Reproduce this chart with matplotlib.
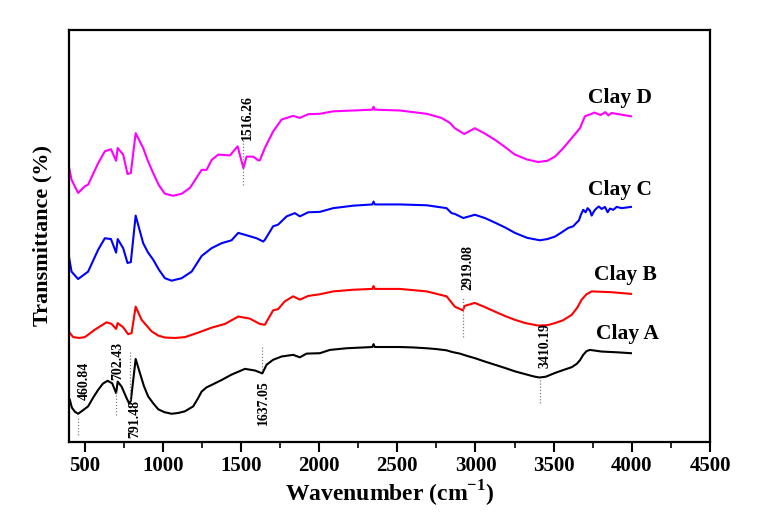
import matplotlib.pyplot as plt

# FTIR spectra (wavenumber in cm-1, transmittance in arbitrary %)
wn_a = [406, 419, 438, 459, 481, 523, 555, 587, 617, 647, 677, 702, 712, 737, 769, 784, 796,
        827, 854, 880, 907, 940, 971, 1010, 1057, 1100, 1142, 1195, 1225, 1249, 1280, 1313,
        1377, 1440, 1526, 1590, 1637, 1664, 1706, 1760, 1834, 1877, 1920, 2005, 2069, 2176,
        2340, 2348, 2356, 2517, 2600, 2688, 2750, 2815, 2850, 2900, 2950, 2996, 3050, 3124,
        3190, 3252, 3300, 3359, 3380, 3410, 3450, 3508, 3560, 3615, 3647, 3668, 3689, 3710,
        3732, 3807, 3913, 3994]
t_a = [10.2, 8.3, 7.3, 6.8, 7.4, 8.6, 10.7, 12.6, 14.1, 14.8, 14.2, 11.8, 14.6, 13.4, 10.6,
       9.4, 9.9, 20.1, 16.7, 13.5, 11.0, 9.3, 7.9, 7.2, 6.8, 7.0, 7.4, 8.6, 10.5, 12.2, 13.2,
       13.8, 15.0, 16.3, 17.7, 17.3, 16.6, 18.7, 19.9, 20.7, 21.1, 20.5, 21.4, 21.5, 22.3,
       22.7, 23.0, 23.7, 23.0, 23.0, 22.9, 22.7, 22.5, 22.2, 21.8, 21.4, 20.8, 20.3, 19.6,
       18.7, 17.9, 17.1, 16.6, 16.0, 15.8, 15.6, 15.8, 16.7, 17.4, 18.1, 18.9, 19.8, 21.1,
       22.0, 22.3, 21.9, 21.7, 21.5]

wn_b = [406, 428, 465, 502, 566, 641, 673, 702, 712, 747, 779, 801, 827, 865, 929, 970, 1014,
        1080, 1142, 1227, 1313, 1398, 1483, 1557, 1621, 1653, 1706, 1738, 1781, 1834, 1877,
        1930, 2005, 2090, 2218, 2340, 2348, 2356, 2517, 2688, 2815, 2847, 2868, 2919, 2932,
        2996, 3060, 3124, 3190, 3252, 3320, 3401, 3460, 3508, 3560, 3615, 3650, 3679, 3710,
        3743, 3871, 3994]
t_b = [26.4, 25.4, 25.2, 25.4, 27.2, 29.0, 28.6, 27.4, 28.8, 27.8, 26.1, 26.4, 32.8, 29.6,
       26.8, 25.8, 25.3, 25.2, 25.4, 26.5, 27.7, 28.6, 30.4, 29.9, 28.6, 28.4, 31.9, 32.2,
       34.1, 35.3, 34.5, 35.4, 35.8, 36.5, 36.9, 37.1, 37.8, 37.1, 37.1, 36.5, 35.3, 33.8,
       32.8, 31.9, 33.0, 33.7, 32.7, 31.6, 30.5, 29.6, 28.8, 28.2, 28.3, 28.8, 29.5, 30.8,
       32.5, 34.5, 35.8, 36.5, 36.3, 35.9]

wn_c = [400, 417, 459, 523, 587, 630, 669, 702, 712, 747, 775, 796, 827, 875, 905, 939, 975,
        1014, 1057, 1121, 1185, 1249, 1313, 1377, 1440, 1483, 1547, 1600, 1643, 1653, 1706,
        1738, 1792, 1845, 1877, 1930, 2005, 2090, 2218, 2340, 2348, 2356, 2517, 2688, 2815,
        2847, 2868, 2922, 2996, 3060, 3124, 3190, 3252, 3330, 3412, 3460, 3508, 3550, 3593,
        3625, 3647, 3661, 3674, 3689, 3704, 3717, 3732, 3743, 3760, 3775, 3789, 3807, 3828,
        3845, 3860, 3881, 3903, 3935, 3994]
t_c = [45.0, 41.3, 39.5, 41.3, 46.6, 49.4, 49.2, 45.9, 49.2, 47.0, 43.4, 43.6, 54.9, 48.2,
       46.0, 44.2, 41.8, 39.7, 39.1, 39.7, 41.3, 45.1, 47.0, 48.2, 48.9, 50.7, 50.0, 49.4,
       48.6, 49.0, 52.3, 52.7, 54.7, 55.5, 54.7, 55.7, 55.8, 56.7, 57.3, 57.6, 58.3, 57.6,
       57.6, 57.4, 56.7, 55.5, 55.3, 54.3, 55.1, 54.3, 53.2, 52.0, 50.7, 49.5, 48.9, 49.2,
       49.8, 50.8, 51.9, 52.3, 53.2, 53.7, 55.1, 56.3, 55.7, 56.7, 56.1, 54.9, 56.1, 56.7,
       57.1, 56.5, 57.0, 55.7, 56.6, 56.3, 57.0, 56.7, 57.0]

wn_d = [400, 417, 459, 502, 523, 587, 630, 669, 702, 712, 747, 775, 796, 827, 875, 905, 939,
        975, 1014, 1067, 1121, 1174, 1249, 1281, 1313, 1355, 1430, 1479, 1516, 1536, 1579,
        1611, 1621, 1653, 1706, 1760, 1834, 1877, 1930, 2005, 2090, 2218, 2340, 2348, 2356,
        2517, 2688, 2783, 2836, 2868, 2928, 2996, 3060, 3124, 3190, 3252, 3330, 3401, 3460,
        3508, 3560, 3615, 3668, 3700, 3743, 3760, 3800, 3830, 3850, 3870, 3994]
t_d = [66.8, 63.6, 60.4, 62.0, 62.4, 67.6, 70.5, 71.0, 68.2, 71.3, 69.7, 65.0, 65.2, 74.9,
       71.3, 68.2, 65.2, 62.3, 60.2, 59.7, 60.2, 61.6, 66.0, 66.0, 68.4, 69.7, 69.5, 71.7,
       66.4, 69.2, 69.2, 68.3, 68.3, 71.3, 75.3, 78.2, 79.1, 78.6, 79.5, 79.6, 80.2, 80.4,
       80.6, 81.3, 80.6, 80.4, 79.6, 78.6, 77.4, 76.1, 74.7, 76.1, 74.8, 73.3, 71.5, 69.7,
       68.5, 67.9, 68.2, 69.2, 71.2, 73.7, 76.1, 79.0, 79.6, 79.9, 79.3, 80.0, 79.2, 79.8,
       79.0]

names = ['Clay A', 'Clay B', 'Clay C', 'Clay D']
colors = ['black', 'red', 'blue', 'magenta']
name_x = [3770, 3757, 3719, 3719]
name_y = [26.2, 40.5, 61.2, 83.5]

# peak labels: value, dotted line (y0, y1), text x, text y, text above line?
peaks = [460.84, 702.43, 791.48, 1516.26, 1637.05, 2919.08, 3410.19]
peak_line_y = [(1.7, 5.8), (6.6, 12.6), (10.2, 21.8), (62.4, 73.3), (17.5, 23.5),
               (25.5, 35.0), (9.5, 15.5)]
peak_text_x = [496, 715, 822, 1545, 1641, 2952, 3444]
peak_text_y = [10.2, 15.0, 10.2, 73.3, 15.0, 36.9, 18.0]
peak_above = [True, True, False, True, False, True, True]

plt.rcParams['font.family'] = ['Liberation Serif', 'DejaVu Serif']
plt.rcParams['font.weight'] = 'bold'
plt.rcParams['mathtext.fontset'] = 'custom'
plt.rcParams['mathtext.rm'] = 'Liberation Serif:bold'
plt.rcParams['mathtext.bf'] = 'Liberation Serif:bold'

fig = plt.figure(figsize=(7.57, 5.31), dpi=100)
ax = fig.add_axes([0.091, 0.168, 0.847, 0.776])

for wn, t, c in zip([wn_a, wn_b, wn_c, wn_d], [t_a, t_b, t_c, t_d], colors):
    ax.plot(wn, t, color=c, linewidth=1.5)

for name, x, y in zip(names, name_x, name_y):
    ax.text(x, y, name, fontsize=15.5, fontweight='bold', ha='left', va='center')

for p, (y0, y1), tx, ty, above in zip(peaks, peak_line_y, peak_text_x, peak_text_y, peak_above):
    ax.plot([p, p], [y0, y1], color='gray', linestyle=(0, (1, 1.5)), linewidth=0.9)
    ax.text(tx, ty, f"{p:.2f}", rotation=90, fontsize=10, fontweight='bold',
            ha='center', va='bottom' if above else 'top')

ax.set_xlim(400, 4500)
ax.set_ylim(0, 100)
ax.set_xticks(range(500, 4501, 500))
ax.set_xticks(range(750, 4500, 500), minor=True)
ax.set_yticks([])
ax.tick_params(axis='x', which='major', direction='out', length=7, width=1.5, labelsize=15)
ax.tick_params(axis='x', which='minor', direction='out', length=4, width=1.2)
for label in ax.get_xticklabels():
    label.set_fontweight('bold')
for spine in ax.spines.values():
    spine.set_linewidth(1.6)

ax.set_xlabel('Wavenumber (cm$^{-1}$)', fontsize=17, fontweight='bold', labelpad=2)
ax.set_ylabel('Transmittance (%)', fontsize=16, fontweight='bold', labelpad=12)

fig.savefig('out.png', dpi=100)
